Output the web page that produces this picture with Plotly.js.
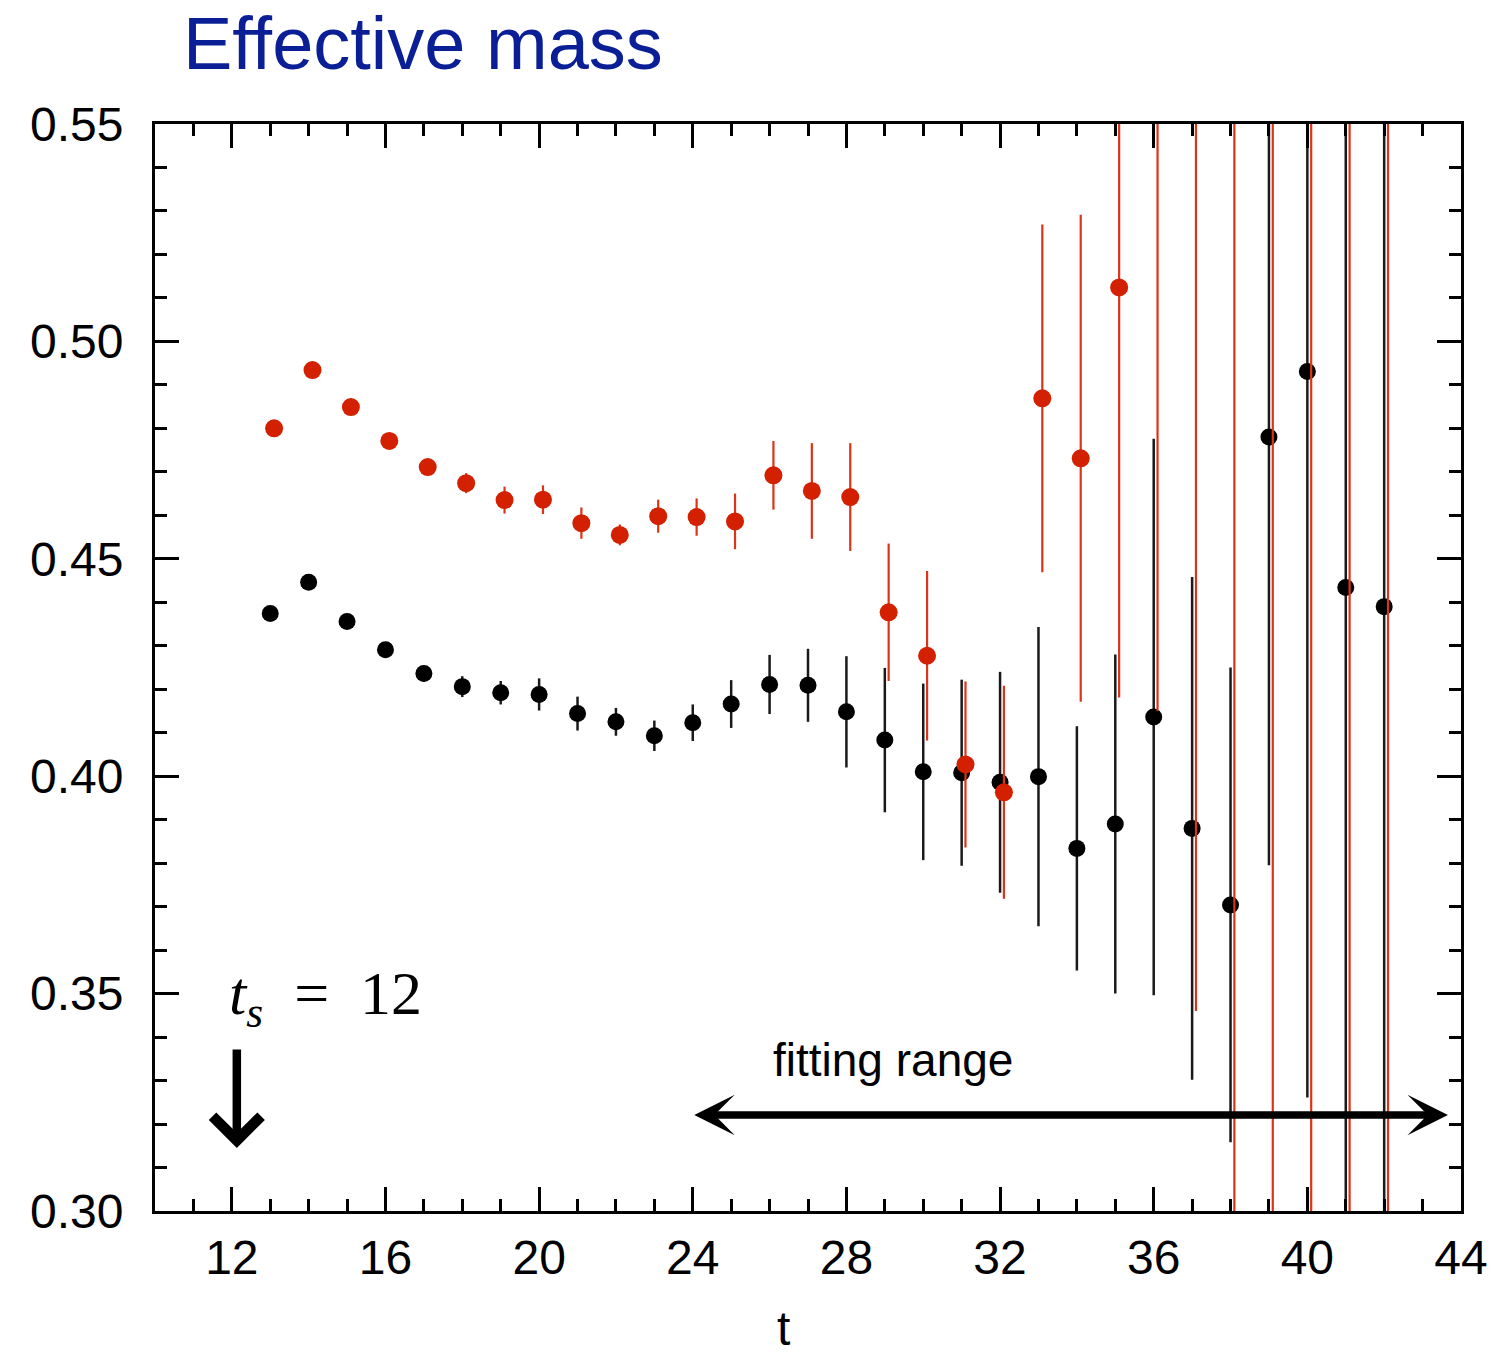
<!DOCTYPE html>
<html>
<head>
<meta charset="utf-8">
<script src="https://cdn.plot.ly/plotly-3.0.1.min.js"></script>
<style>html,body{margin:0;padding:0;background:#fff;}#chart{width:1496px;height:1357px;}</style>
</head>
<body>
<div id="chart"></div>
<script>
// time slices
const t = [13,14,15,16,17,18,19,20,21,22,23,24,25,26,27,28,29,30,31,32,33,34,35,36,37,38,39,40,41,42];
// black series (effective mass) and errors
const blackM = [0.4374,0.4446,0.4356,0.4291,0.4236,0.4206,0.4192,0.4188,0.4144,0.4125,0.4093,0.4123,0.4166,0.4211,0.4209,0.4148,0.4083,0.4010,0.4008,0.3986,0.3999,0.3834,0.3890,0.4136,0.3880,0.3704,0.4780,0.4931,0.4434,0.4390];
const blackErr = [0.0015,0.0015,0.0015,0.0015,0.0018,0.0024,0.0027,0.0037,0.0039,0.0032,0.0035,0.0042,0.0055,0.0068,0.0084,0.0128,0.0166,0.0203,0.0214,0.0254,0.0344,0.0281,0.0390,0.0640,0.0578,0.0546,0.0985,0.1670,0.2000,0.2000];
// red series (effective mass) and errors
const redM = [0.4800,0.4934,0.4849,0.4771,0.4711,0.4674,0.4635,0.4636,0.4582,0.4555,0.4598,0.4596,0.4586,0.4692,0.4656,0.4642,0.4377,0.4277,0.4027,0.3963,0.4869,0.4731,0.5124,0.5700,0.5800,0.6000,0.6000,0.6000,0.6000,0.6000];
const redErr = [0.0012,0.0012,0.0014,0.0016,0.0018,0.0023,0.0031,0.0033,0.0036,0.0024,0.0038,0.0043,0.0064,0.0079,0.0110,0.0124,0.0158,0.0195,0.0191,0.0245,0.0400,0.0560,0.0943,0.1550,0.2340,0.3500,0.3500,0.3500,0.3500,0.3500];
const redShift = 0.1; // horizontal display offset of red series
const tRed = t.map(v => v + redShift);

const FONT = '"Liberation Sans", Arial, Helvetica, sans-serif';

const traces = [
  {
    x: t, y: blackM, type: 'scatter', mode: 'markers',
    marker: {color: '#000000', size: 17},
    error_y: {type: 'data', array: blackErr, visible: true, color: '#1a1a1a', thickness: 2.5, width: 0},
    showlegend: false, hoverinfo: 'x+y'
  },
  {
    x: tRed, y: redM, type: 'scatter', mode: 'markers',
    marker: {color: '#d22000', size: 18},
    error_y: {type: 'data', array: redErr, visible: true, color: '#dc3418', thickness: 2.2, width: 0},
    showlegend: false, hoverinfo: 'x+y'
  }
];

const axisCommon = {
  showline: true, linewidth: 3, linecolor: '#000', mirror: 'allticks',
  ticks: 'inside', ticklen: 24, tickwidth: 3, tickcolor: '#000',
  showgrid: false, zeroline: false,
  tickfont: {family: FONT, size: 48, color: '#000'}
};

const layout = {
  width: 1496, height: 1357,
  margin: {l: 155, r: 35, t: 124, b: 146, pad: 0},
  paper_bgcolor: '#fff', plot_bgcolor: '#fff',
  font: {family: FONT, color: '#000'},
  title: {
    text: 'Effective mass',
    font: {family: FONT, size: 74, color: '#0a1e96'},
    x: 183/1496, xref: 'container', xanchor: 'left',
    y: 1 - 43/1357, yref: 'container', yanchor: 'middle'
  },
  xaxis: Object.assign({}, axisCommon, {
    range: [10, 44], tickmode: 'linear', tick0: 0, dtick: 4,
    ticklabelstandoff: 2,
    minor: {dtick: 1, ticks: 'inside', ticklen: 12, tickwidth: 3, tickcolor: '#000', showgrid: false}
  }),
  yaxis: Object.assign({}, axisCommon, {
    range: [0.30, 0.55], tickmode: 'linear', tick0: 0.30, dtick: 0.05, tickformat: '.2f',
    ticklabelstandoff: 19,
    minor: {dtick: 0.01, ticks: 'inside', ticklen: 12, tickwidth: 3, tickcolor: '#000', showgrid: false}
  }),
  annotations: [
    {
      // x-axis title
      x: (783 - 155) / 1306, y: -(1328 - 1211) / 1087, xref: 'paper', yref: 'paper',
      showarrow: false, text: 't', xanchor: 'center', yanchor: 'middle',
      font: {family: FONT, size: 48, color: '#000'}
    },
    {
      x: 14.43, y: 0.349, xref: 'x', yref: 'y', showarrow: false,
      text: '<i>t</i><sub><i>s</i></sub>\u2002=\u200212', xanchor: 'center', yanchor: 'middle',
      font: {family: '"Liberation Serif", "DejaVu Serif", serif', size: 62, color: '#000'}
    },
    {
      x: 12.13, y: 0.3145, ax: 12.13, ay: 0.3375, xref: 'x', yref: 'y', axref: 'x', ayref: 'y',
      text: '', showarrow: true, arrowhead: 4, arrowsize: 1.1, arrowwidth: 8.5, arrowcolor: '#000', standoff: 0
    },
    {
      x: 29.21, y: 0.3348, xref: 'x', yref: 'y', showarrow: false,
      text: 'fitting range', xanchor: 'center', yanchor: 'middle',
      font: {family: FONT, size: 46, color: '#000'}
    },
    {
      x: 43.66, y: 0.3221, ax: 24.0, ay: 0.3221, xref: 'x', yref: 'y', axref: 'x', ayref: 'y',
      text: '', showarrow: true, arrowside: 'end+start',
      arrowhead: 3, startarrowhead: 3, arrowsize: 0.9, startarrowsize: 0.9,
      arrowwidth: 7.5, arrowcolor: '#000', standoff: 0, startstandoff: 0
    }
  ]
};

Plotly.newPlot('chart', traces, layout, {displayModeBar: false, staticPlot: true});
</script>
</body>
</html>
